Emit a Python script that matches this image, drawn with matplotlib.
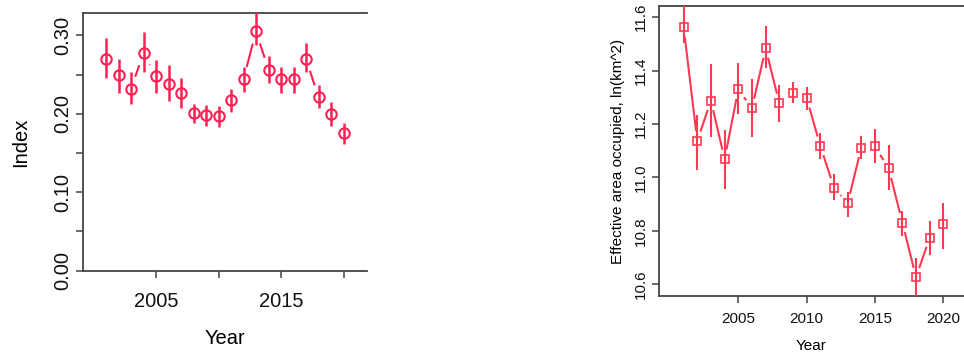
import numpy as np
import matplotlib
matplotlib.use("Agg")
import matplotlib.pyplot as plt

plt.rcParams['font.family'] = ['Liberation Sans', 'DejaVu Sans']

years = list(range(2001, 2021))

# Left panel: index with error bars
index_val = [0.270, 0.249, 0.232, 0.277, 0.248, 0.238, 0.227, 0.201, 0.198, 0.197,
             0.217, 0.244, 0.305, 0.256, 0.244, 0.244, 0.270, 0.221, 0.200, 0.175]
index_hi = [0.297, 0.270, 0.253, 0.304, 0.269, 0.262, 0.245, 0.213, 0.211, 0.210,
            0.232, 0.260, 0.335, 0.273, 0.260, 0.260, 0.290, 0.236, 0.215, 0.188]
index_lo = [0.245, 0.226, 0.212, 0.253, 0.226, 0.216, 0.207, 0.188, 0.184, 0.183,
            0.202, 0.228, 0.287, 0.239, 0.227, 0.227, 0.253, 0.207, 0.185, 0.162]

# Right panel: effective area occupied
area_val = [11.563, 11.137, 11.288, 11.068, 11.330, 11.259, 11.484, 11.278, 11.318, 11.297,
            11.118, 10.962, 10.903, 11.112, 11.116, 11.034, 10.831, 10.626, 10.775, 10.825]
area_hi = [11.680, 11.234, 11.424, 11.178, 11.428, 11.368, 11.568, 11.347, 11.359, 11.340,
           11.166, 11.013, 10.947, 11.157, 11.181, 11.122, 10.876, 10.697, 10.838, 10.906]
area_lo = [11.503, 11.028, 11.153, 10.956, 11.238, 11.153, 11.409, 11.209, 11.278, 11.253,
           11.068, 10.916, 10.853, 11.068, 11.053, 10.953, 10.781, 10.530, 10.710, 10.732]

left_yticks = [0.00, 0.05, 0.10, 0.15, 0.20, 0.25, 0.30]
left_yticklabels = ['0.00', '', '0.10', '', '0.20', '', '0.30']
left_xticks = [2005, 2010, 2015, 2020]
left_xticklabels = ['2005', '', '2015', '']
right_yticks = [10.6, 10.8, 11.0, 11.2, 11.4, 11.6]
right_yticklabels = ['10.6', '10.8', '11.0', '11.2', '11.4', '11.6']
right_xticks = [2005, 2010, 2015, 2020]
right_xticklabels = ['2005', '2010', '2015', '2020']

W, H = 964, 354
fig = plt.figure(figsize=(W / 100, H / 100), dpi=100)
fig.patch.set_facecolor('white')

ax1 = fig.add_axes([83 / W, (H - 270.7) / H, (367 - 83) / W, (270.7 - 13.3) / H])
ax2 = fig.add_axes([659 / W, (H - 296) / H, (964 - 659) / W, (296 - 6) / H])

spine_col = '#444444'


def style(ax, fs, ypad, xpad):
    ax.spines['right'].set_visible(False)
    for s in ['left', 'bottom', 'top']:
        ax.spines[s].set_color(spine_col)
        ax.spines[s].set_linewidth(1.3)
    ax.tick_params(axis='both', colors=spine_col, labelcolor='#111111', length=5, width=1.1,
                   labelsize=fs)
    ax.tick_params(axis='x', pad=xpad)
    ax.tick_params(axis='y', pad=ypad)


def gapped_line(ax, xs, ys, gap, color, lw):
    fig.canvas.draw()
    pts = ax.transData.transform(np.column_stack([xs, ys]))
    inv = ax.transData.inverted()
    for i in range(len(pts) - 1):
        p0, p1 = pts[i], pts[i + 1]
        d = p1 - p0
        L = np.hypot(*d)
        if L <= 2 * gap:
            continue
        u = d / L
        a = inv.transform(p0 + u * gap)
        b = inv.transform(p1 - u * gap)
        ax.plot([a[0], b[0]], [a[1], b[1]], color=color, lw=lw, solid_capstyle='butt', zorder=2)


# Left panel
c1 = '#FF1F52'
ax1.set_xlim(1999.16, 2021.88)
ax1.set_ylim(0, 0.328)
ax1.vlines(years, index_lo, index_hi, color=c1, lw=1.8, zorder=3)
ax1.plot(years, index_val, linestyle='none', marker='o', ms=7.5, mfc='none', mec=c1, mew=1.5, zorder=4)
style(ax1, 14.5, 3, 10.5)
ax1.set_yticks(left_yticks)
ax1.set_yticklabels(left_yticklabels, rotation=90, va='center')
ax1.set_xticks(left_xticks)
ax1.set_xticklabels(left_xticklabels)
ax1.set_xlabel('Year', fontsize=14.5, labelpad=13)
ax1.set_ylabel('Index', fontsize=14.5, labelpad=16.5)

# Right panel
c2 = '#FF3852'
ax2.set_xlim(1999.2, 2021.51)
ax2.set_ylim(10.556, 11.642)
ax2.vlines(years, area_lo, area_hi, color=c2, lw=1.5, zorder=3)
ax2.plot(years, area_val, linestyle='none', marker='s', ms=5.5, mfc='none', mec=c2, mew=1.2, zorder=4)
style(ax2, 11, 3, 6.7)
ax2.set_yticks(right_yticks)
ax2.set_yticklabels(right_yticklabels, rotation=90, va='center')
ax2.set_xticks(right_xticks)
ax2.set_xticklabels(right_xticklabels)
ax2.set_xlabel('Year', fontsize=11, labelpad=9.5)
ax2.set_ylabel('Effective area occupied, ln(km^2)', fontsize=11, labelpad=6.5)

gapped_line(ax1, years, index_val, 12.6, c1, 1.5)
gapped_line(ax2, years, area_val, 9.8, c2, 1.5)

fig.savefig('out.png', dpi=100)
